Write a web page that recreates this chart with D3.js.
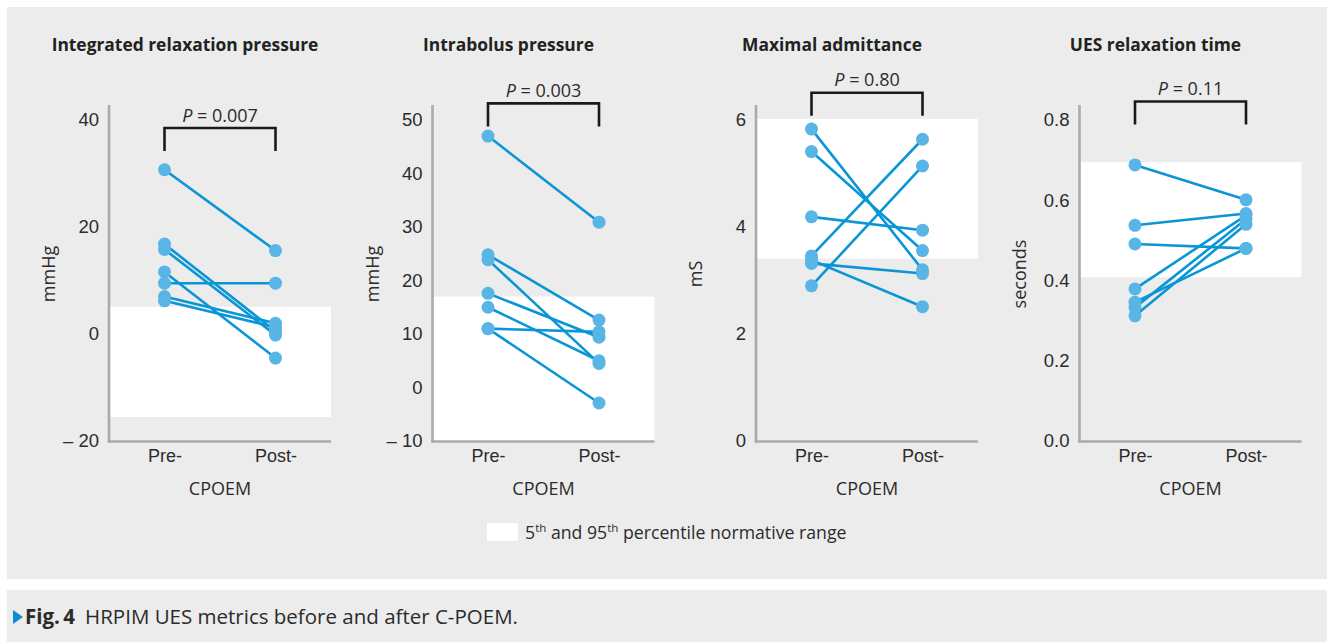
<!DOCTYPE html>
<html>
<head>
<meta charset="utf-8">
<script src="https://cdn.jsdelivr.net/npm/d3@7"></script>
<style>
  body { margin: 0; background: #fff; }
  svg { display: block; font-family: "Open Sans", sans-serif; }
  .tick text { fill: #2b2b2b; font-size: 18.5px; }
</style>
</head>
<body>
<svg id="chart" width="1327" height="642"></svg>
<script>
var panelTitles = ["Integrated relaxation pressure", "Intrabolus pressure", "Maximal admittance", "UES relaxation time"];
var yLabels = ["mmHg", "mmHg", "mS", "seconds"];
var categories = ["Pre-", "Post-"];
var yDomains = [[-20, 40], [-10, 50], [0, 6], [0, 0.8]];
var yTicks = [[-20, 0, 20, 40], [-10, 0, 10, 20, 30, 40, 50], [0, 2, 4, 6], [0, 0.2, 0.4, 0.6, 0.8]];
var normRanges = [[-15.5, 5.1], [-10, 17], [3.41, 6.02], [0.408, 0.695]];
var pValues = ["0.007", "0.003", "0.80", "0.11"];
var bracketTops = [38.5, 53.1, 6.51, 0.846];

var preValues = [
  [30.7, 16.8, 15.8, 11.6, 9.5, 7.0, 6.2],
  [47.0, 24.8, 23.9, 17.6, 15.0, 11.0, 11.0],
  [5.83, 5.41, 4.19, 3.46, 3.32, 3.38, 2.90],
  [0.688, 0.5375, 0.491, 0.379, 0.346, 0.333, 0.312]
];
var postValues = [
  [15.6, 0.5, -0.2, -4.5, 9.5, 2.0, 1.25],
  [30.9, 12.6, 4.5, 9.4, 5.0, 10.4, -2.9],
  [3.20, 3.56, 3.94, 5.64, 3.13, 2.51, 5.14],
  [0.601, 0.567, 0.48, 0.5625, 0.48, 0.5525, 0.54]
];

var svg = d3.select("#chart"),
    bg = "#ebeceb",
    lineColor = "#0a96d6",
    dotColor = "#58b5e6",
    axisColor = "#a8aaac",
    textColor = "#2b2b2b",
    panelLeft = 109,
    panelStep = 323.5,
    plotW = 222,
    yTop = 120,
    yBottom = 441;

svg.append("rect").attr("x", 7).attr("y", 7).attr("width", 1320).attr("height", 572).attr("fill", bg);
svg.append("rect").attr("x", 7).attr("y", 590).attr("width", 1320).attr("height", 52).attr("fill", bg);

function tickFormat(i) {
  if (i === 3) return d3.format(".1f");
  return function(d) { return d < 0 ? "\u2013 " + Math.abs(d) : d; };
}

panelTitles.forEach(function(title, i) {
  var g = svg.append("g")
    .attr("transform", "translate(" + (panelLeft + i * panelStep) + ",0)");

  var x = d3.scalePoint().domain(categories).range([0, plotW]).padding(0.5);
  var y = d3.scaleLinear().domain(yDomains[i]).range([yBottom, yTop]);

  // normative range
  var lo = Math.max(normRanges[i][0], yDomains[i][0]);
  g.append("rect")
    .attr("x", 0)
    .attr("y", y(normRanges[i][1]))
    .attr("width", plotW)
    .attr("height", y(lo) - y(normRanges[i][1]))
    .attr("fill", "#fff");

  // axes
  var yAxis = g.append("g")
    .call(d3.axisLeft(y).tickValues(yTicks[i]).tickFormat(tickFormat(i)).tickSize(0).tickPadding(10));
  yAxis.select(".domain").remove();

  var xAxis = g.append("g")
    .attr("transform", "translate(0," + yBottom + ")")
    .call(d3.axisBottom(x).tickSize(0).tickPadding(8));
  xAxis.select(".domain").remove();
  xAxis.selectAll(".tick text").style("font-size", "18px");

  g.append("line")
    .attr("x1", 0).attr("x2", 0)
    .attr("y1", yTop - 15).attr("y2", yBottom + 1.5)
    .attr("stroke", axisColor).attr("stroke-width", 2.6);
  g.append("line")
    .attr("x1", -1.3).attr("x2", plotW)
    .attr("y1", yBottom + 0.5).attr("y2", yBottom + 0.5)
    .attr("stroke", axisColor).attr("stroke-width", 2.6);

  // titles and labels
  g.append("text")
    .attr("x", 76).attr("y", 51)
    .attr("text-anchor", "middle")
    .attr("font-weight", "bold")
    .attr("font-size", 17.4)
    .attr("fill", "#222")
    .text(title);

  g.append("text")
    .attr("transform", "translate(-60,274) rotate(-90)")
    .attr("dy", "0.35em")
    .attr("text-anchor", "middle")
    .attr("font-size", 18)
    .attr("fill", textColor)
    .text(yLabels[i]);

  g.append("text")
    .attr("x", plotW / 2).attr("y", 495)
    .attr("text-anchor", "middle")
    .attr("font-size", 18)
    .attr("fill", textColor)
    .text("CPOEM");

  // significance bracket
  var bTop = y(bracketTops[i]);
  g.append("path")
    .attr("d", "M" + x("Pre-") + "," + (bTop + 23) + "V" + bTop + "H" + x("Post-") + "V" + (bTop + 23))
    .attr("fill", "none")
    .attr("stroke", "#1a1a1a")
    .attr("stroke-width", 2.6);

  var pt = g.append("text")
    .attr("x", plotW / 2).attr("y", bTop - 6.5)
    .attr("text-anchor", "middle")
    .attr("font-size", 18)
    .attr("fill", textColor);
  pt.append("tspan").attr("font-style", "italic").text("P");
  pt.append("tspan").text(" = " + pValues[i]);

  // paired lines and dots
  var pairs = preValues[i].map(function(v, k) {
    return { pre: v, post: postValues[i][k] };
  });

  g.selectAll("line.pair").data(pairs)
    .enter()
    .append("line")
    .attr("class", "pair")
    .attr("x1", x("Pre-"))
    .attr("y1", function(d) { return y(d.pre); })
    .attr("x2", x("Post-"))
    .attr("y2", function(d) { return y(d.post); })
    .attr("stroke", lineColor)
    .attr("stroke-width", 2.6);

  var dots = [];
  pairs.forEach(function(d) {
    dots.push({ cat: "Pre-", val: d.pre });
    dots.push({ cat: "Post-", val: d.post });
  });

  g.selectAll("circle").data(dots)
    .enter()
    .append("circle")
    .attr("cx", function(d) { return x(d.cat); })
    .attr("cy", function(d) { return y(d.val); })
    .attr("r", 6.5)
    .attr("fill", dotColor);
});

// legend
svg.append("rect")
  .attr("x", 487).attr("y", 523)
  .attr("width", 31).attr("height", 18)
  .attr("fill", "#fff");

var lt = svg.append("text")
  .attr("x", 525).attr("y", 539)
  .attr("font-size", 17.7)
  .attr("fill", textColor);
lt.append("tspan").text("5");
lt.append("tspan").attr("font-size", 11.5).attr("dy", -7).text("th");
lt.append("tspan").attr("dy", 7).text(" and 95");
lt.append("tspan").attr("font-size", 11.5).attr("dy", -7).text("th");
lt.append("tspan").attr("dy", 7).text(" percentile normative range");

// caption
svg.append("path")
  .attr("d", "M13,610L23,617L13,624Z")
  .attr("fill", "#0d8ccf");

var cap = svg.append("text")
  .attr("x", 25).attr("y", 624)
  .attr("font-size", 20.5)
  .attr("fill", textColor);
cap.append("tspan").attr("font-weight", "bold").text("Fig.\u20094");
cap.append("tspan").attr("dx", 10).text("HRPIM UES metrics before and after C-POEM.");
</script>
</body>
</html>
